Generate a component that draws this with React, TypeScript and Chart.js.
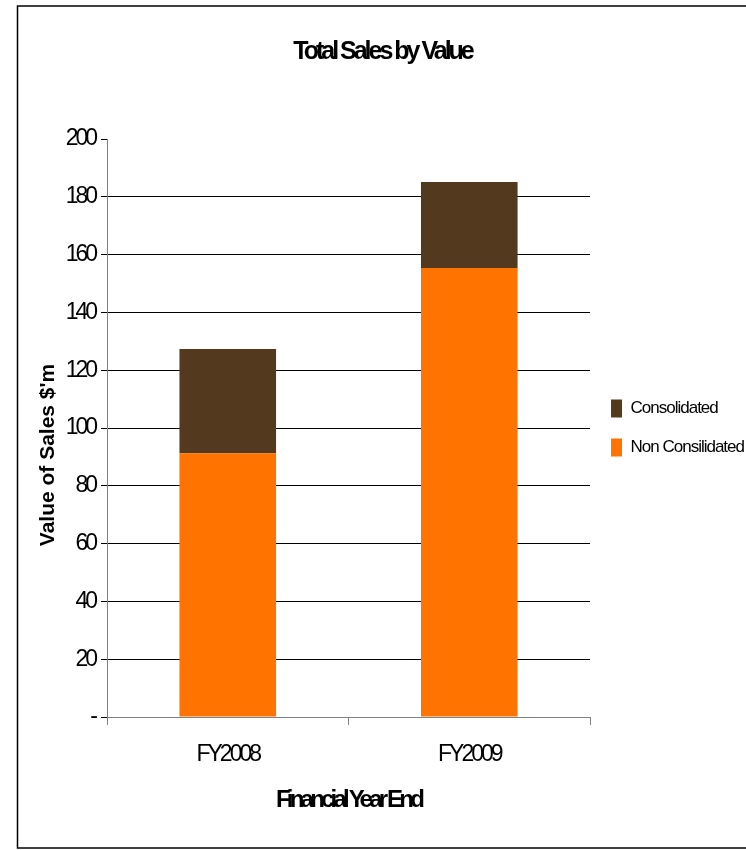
import { useEffect, useRef } from 'react';
import { Chart, registerables } from 'chart.js';

Chart.register(...registerables);

// ---- data ----
const categories = ['FY2008', 'FY2009'];
const nonConsolidated = [91.3, 155.4];
const consolidated = [36.0, 29.7];
const yTickValues = [0, 20, 40, 60, 80, 100, 120, 140, 160, 180, 200];
const seriesNames = ['Non Consilidated', 'Consolidated'];
const chartTitle = 'Total Sales by Value';
const xAxisTitle = 'Financial Year End';
const yAxisTitle = "Value of Sales $'m";

const FONT = "'Liberation Sans', Arial, sans-serif";
const ORANGE = '#FF7300';
const BROWN = '#533A1F';

// tight tracking per font size (px -> letter spacing px)
const TRACKING: Record<number, number> = { 25: -3, 24: -3.8, 23: -3, 17: -1 };

const tightText = {
  id: 'tightText',
  beforeDraw(chart: any) {
    const ctx: any = chart.ctx;
    if (ctx.__tight) return;
    const fill = ctx.fillText;
    ctx.fillText = function (...args: any[]) {
      const m = /(\d+(?:\.\d+)?)px/.exec(this.font);
      const t = m ? TRACKING[parseFloat(m[1])] : undefined;
      if (t === undefined) return fill.apply(this, args);
      const prev = this.letterSpacing;
      this.letterSpacing = `${t}px`;
      fill.apply(this, args);
      this.letterSpacing = prev;
    };
    ctx.__tight = true;
  },
};

// rotated y-axis title, sitting a little below the middle of the plot
const yTitlePlugin = {
  id: 'yTitle',
  afterDraw(chart: any) {
    const { ctx, chartArea } = chart;
    ctx.save();
    ctx.translate(chartArea.left - 59, (chartArea.top + chartArea.bottom) / 2 + 27);
    ctx.rotate(-Math.PI / 2);
    ctx.font = `bold 21px ${FONT}`;
    ctx.fillStyle = '#000';
    ctx.textAlign = 'center';
    ctx.textBaseline = 'middle';
    ctx.fillText(yAxisTitle, 0, 0);
    ctx.restore();
  },
};

// outer frame of the chart
const framePlugin = {
  id: 'frame',
  afterDraw(chart: any) {
    const { ctx } = chart;
    ctx.save();
    ctx.strokeStyle = '#000';
    ctx.lineWidth = 1.5;
    ctx.strokeRect(17.5, 6, 800, 842);
    ctx.restore();
  },
};

export default function App() {
  const canvasRef = useRef<HTMLCanvasElement | null>(null);

  useEffect(() => {
    if (!canvasRef.current) return;
    const chart = new Chart(canvasRef.current, {
      type: 'bar',
      data: {
        labels: categories,
        datasets: [
          {
            label: seriesNames[0],
            data: nonConsolidated,
            backgroundColor: ORANGE,
            borderWidth: 0,
            barPercentage: 0.4,
            categoryPercentage: 1,
          },
          {
            label: seriesNames[1],
            data: consolidated,
            backgroundColor: BROWN,
            borderWidth: 0,
            barPercentage: 0.4,
            categoryPercentage: 1,
          },
        ],
      },
      options: {
        animation: false,
        responsive: false,
        devicePixelRatio: 1,
        layout: { padding: { left: -5, right: -24, top: 6, bottom: 0 } },
        plugins: {
          tooltip: { enabled: false },
          title: {
            display: true,
            text: chartTitle,
            color: '#000',
            font: { family: FONT, size: 25, weight: 'bold' },
            padding: { top: 31, bottom: 72 },
          },
          legend: {
            position: 'right',
            reverse: true,
            labels: {
              boxWidth: 11,
              boxHeight: 18,
              padding: 21,
              color: '#000',
              font: { family: FONT, size: 17 },
            },
          },
        },
        scales: {
          x: {
            stacked: true,
            ticks: { color: '#000', font: { family: FONT, size: 23 }, padding: 16 },
            grid: {
              offset: true,
              drawOnChartArea: false,
              drawTicks: true,
              tickLength: 8,
              tickColor: '#808080',
            },
            border: { color: '#808080', width: 1 },
            title: {
              display: true,
              text: xAxisTitle,
              color: '#000',
              font: { family: FONT, size: 24, weight: 'bold' },
              padding: { top: 0, bottom: 35 },
            },
            afterFit: (s: any) => {
              s.height = 133;
            },
          },
          y: {
            stacked: true,
            min: 0,
            max: 200,
            afterBuildTicks: (s: any) => {
              s.ticks = yTickValues.map((v) => ({ value: v }));
            },
            ticks: {
              color: '#000',
              font: { family: FONT, size: 23 },
              padding: 6,
              callback: (v: any) => (Number(v) === 0 ? '-' : String(v)),
            },
            grid: {
              color: (c: any) =>
                c.tick && c.tick.value > 0 && c.tick.value < 200 ? '#000' : 'rgba(0,0,0,0)',
              tickColor: '#000',
              tickLength: 6,
              lineWidth: 1,
            },
            border: { color: '#808080', width: 1 },
            afterFit: (s: any) => {
              s.width = 112;
            },
          },
        },
      },
      plugins: [tightText, yTitlePlugin, framePlugin],
    });
    return () => chart.destroy();
  }, []);

  return (
    <div style={{ position: 'absolute', left: 0, top: 0, width: 746, height: 850, background: '#fff' }}>
      <canvas ref={canvasRef} width={746} height={850} />
    </div>
  );
}
